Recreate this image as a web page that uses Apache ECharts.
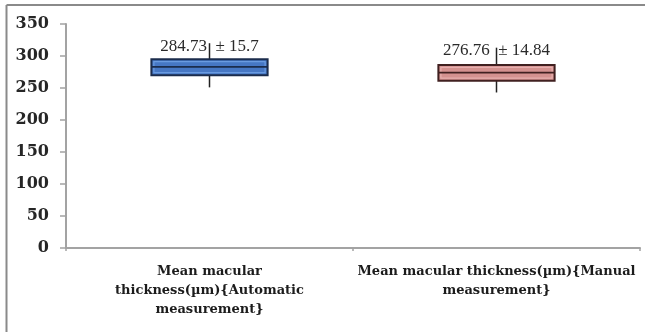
<!DOCTYPE html>
<html>
<head>
<meta charset="utf-8">
<script src="https://cdn.jsdelivr.net/npm/echarts@6/dist/echarts.min.js"></script>
<style>
  html, body { margin: 0; padding: 0; background: #fff; }
  #chart { width: 645px; height: 332px; }
</style>
</head>
<body>
<div id="chart"></div>
<script>
// Macular thickness: automatic vs manual measurement (box plots)
var categories = [
  'Mean macular\nthickness(\u00b5m){Automatic\nmeasurement}',
  'Mean macular thickness(\u00b5m){Manual\nmeasurement}'
];
var whiskerLow  = [251, 243];
var quartile1   = [270, 261.5];
var medians     = [283, 274];
var quartile3   = [295, 286];
var whiskerHigh = [320, 313];
var meanText    = ['284.73', '276.76'];
var sdText      = ['15.7', '14.84'];
var yTicks = [0, 50, 100, 150, 200, 250, 300, 350];

var fills      = ['#4677c4', '#d4918f'];
var highlights = ['#6a9be0', '#e6b0ae'];
var borders    = ['#1b2c4c', '#402020'];

var boxData = categories.map(function (c, i) {
  return [i, whiskerLow[i], quartile1[i], medians[i], quartile3[i], whiskerHigh[i]];
});

var chart = echarts.init(document.getElementById('chart'), null, { renderer: 'canvas' });

chart.setOption({
  animation: false,
  backgroundColor: '#ffffff',
  grid: { left: 66, right: 5, top: 24, bottom: 84 },
  xAxis: {
    type: 'category',
    data: categories,
    boundaryGap: true,
    axisLine: { lineStyle: { color: '#a3a3a3', width: 2 } },
    axisTick: { show: true, length: 3, lineStyle: { color: '#a3a3a3', width: 1.5 } },
    axisLabel: {
      interval: 0,
      margin: 14,
      color: '#1c1c1c',
      fontFamily: 'DejaVu Serif',
      fontWeight: 'bold',
      fontSize: 13,
      lineHeight: 19,
      align: 'center'
    }
  },
  yAxis: {
    type: 'value',
    min: yTicks[0],
    max: yTicks[yTicks.length - 1],
    interval: 50,
    splitLine: { show: false },
    axisLine: { show: true, lineStyle: { color: '#a3a3a3', width: 2 } },
    axisTick: { show: true, length: 6, lineStyle: { color: '#a3a3a3', width: 1.5 } },
    axisLabel: {
      margin: 17,
      color: '#262626',
      fontFamily: 'DejaVu Serif',
      fontWeight: 'bold',
      fontSize: 16
    }
  },
  series: [{
    type: 'custom',
    data: boxData,
    encode: { x: 0, y: [1, 2, 3, 4, 5] },
    renderItem: function (params, api) {
      var i = params.dataIndex;
      var x = api.value(0);
      var lo = api.coord([x, api.value(1)]);
      var q1 = api.coord([x, api.value(2)]);
      var md = api.coord([x, api.value(3)]);
      var q3 = api.coord([x, api.value(4)]);
      var hi = api.coord([x, api.value(5)]);
      var half = api.size([1, 0])[0] * 0.405 / 2;
      var cx = lo[0];
      var h = q1[1] - q3[1];
      return {
        type: 'group',
        children: [
          {
            type: 'line',
            shape: { x1: cx, y1: hi[1], x2: cx, y2: lo[1] },
            style: { stroke: '#222222', lineWidth: 1.5 }
          },
          {
            type: 'rect',
            shape: { x: cx - half, y: q3[1], width: half * 2, height: h },
            style: { fill: fills[i], stroke: borders[i], lineWidth: 2 }
          },
          {
            type: 'rect',
            shape: { x: cx - half + 2.5, y: q3[1] + 2.5, width: half * 2 - 5, height: h - 5 },
            style: { fill: 'none', stroke: highlights[i], lineWidth: 1.2 }
          },
          {
            type: 'line',
            shape: { x1: cx - half, y1: md[1], x2: cx + half, y2: md[1] },
            style: { stroke: borders[i], lineWidth: 1.8 }
          },
          {
            type: 'text',
            x: cx,
            y: hi[1] + 3,
            style: {
              text: meanText[i] + '  \u00b1 ' + sdText[i],
              fill: '#2a2a2a',
              font: '17px "Liberation Serif"',
              align: 'center',
              verticalAlign: 'middle'
            }
          }
        ]
      };
    }
  }],
  graphic: [
    {
      type: 'line',
      shape: { x1: 6.5, y1: 5, x2: 645, y2: 5 },
      style: { stroke: '#8a8a8a', lineWidth: 2 },
      z: 10
    },
    {
      type: 'line',
      shape: { x1: 6.5, y1: 5, x2: 6.5, y2: 332 },
      style: { stroke: '#8a8a8a', lineWidth: 2 },
      z: 10
    }
  ]
});
</script>
</body>
</html>
